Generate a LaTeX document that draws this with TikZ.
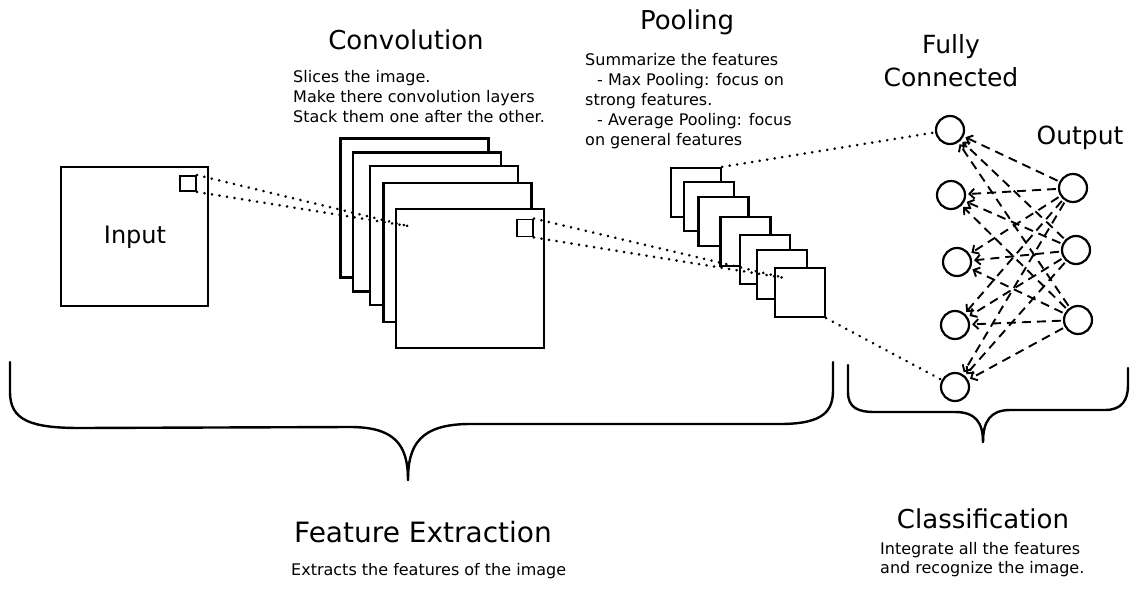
\documentclass[tikz,border=0pt]{standalone}
\usepackage{fontspec}
\setmainfont{DejaVu Sans}
\usetikzlibrary{arrows.meta}
\begin{document}
\begin{tikzpicture}[x=1pt,y=-1pt,
  box/.style={draw, line width=2.2pt, fill=white, inner sep=0pt},
  bigsq/.style={box, minimum width=148pt, minimum height=139pt},
  poolsq/.style={box, minimum width=50pt, minimum height=49pt},
  tinysq/.style={box, line width=1.9pt, minimum width=16pt, minimum height=16pt},
  neuron/.style={draw, circle, line width=2.2pt, minimum size=28pt, inner sep=0pt, fill=white},
  dots/.style={line width=2.8pt, line cap=round, dash pattern=on 0.1pt off 7.5pt},
  link/.style={line width=1.9pt, dash pattern=on 9pt off 6pt, -{Straight Barb[length=5pt,width=10pt,line width=1.9pt]}, shorten >=2pt, shorten <=2pt},
  brace/.style={line width=2.4pt, line cap=round},
  title/.style={font=\fontsize{26}{30}\selectfont, inner sep=0pt},
  body/.style={font=\fontsize{16}{20}\selectfont, align=left, inner sep=0pt},
  small/.style={font=\fontsize{16}{19}\selectfont, align=left, inner sep=0pt}]
\useasboundingbox (0,0) rectangle (1139,591);
\fill[white] (0,0) rectangle (1139,591);

% Input
\node[box, minimum width=147pt, minimum height=139pt] (input) at (134.5,236.5) {};
\node[title, font=\fontsize{24}{28}\selectfont] (inputlbl) at (135,237) {Input};
\node[tinysq, minimum height=15pt] (insq) at (188,183.5) {};

% Convolution stack
\node[bigsq] (c1) at (414.5,208) {};
\node[bigsq] (c2) at (427,222) {};
\node[bigsq] (c3) at (444,235.5) {};
\node[bigsq] (c4) at (457.5,252.5) {};
\node[bigsq] (c5) at (470,278.5) {};
\node[tinysq, minimum height=17pt] (convsq) at (525,228) {};
\coordinate (convfocus) at (408,226);

% Pooling stack
\node[poolsq] (p1) at (696,192.5) {};
\node[poolsq] (p2) at (709,206.5) {};
\node[poolsq] (p3) at (723.5,221.5) {};
\node[poolsq] (p4) at (745.5,241.5) {};
\node[poolsq] (p5) at (765,259.5) {};
\node[poolsq] (p6) at (782,274.5) {};
\node[poolsq] (p7) at (800,292.5) {};
\coordinate (poolfocus) at (785,278);

% Dotted projections
\draw[dots] (insq.north east) -- (convfocus);
\draw[dots] (insq.south east) -- (convfocus);
\draw[dots] (convsq.north east) -- (poolfocus);
\draw[dots] (convsq.south east) -- (poolfocus);

% Fully connected
\node[neuron] (l1) at (950,130) {};
\node[neuron] (l2) at (951,195) {};
\node[neuron] (l3) at (957,262) {};
\node[neuron] (l4) at (955,325) {};
\node[neuron] (l5) at (955,387) {};
\node[neuron] (r1) at (1073,188) {};
\node[neuron] (r2) at (1076,250) {};
\node[neuron] (r3) at (1078,320) {};

\draw[dots] (p1.north east) -- (l1);
\draw[dots] (p7.south east) -- (l5);

\foreach \r in {r1,r2,r3}{
  \foreach \l in {l1,l2,l3,l4,l5}{
    \draw[link] (\r) -- (\l);
  }
}

% Titles and texts
\node[title] (convt) at (406,40) {Convolution};
\node[body, anchor=west] (convtxt) at (293,97) {Slices the image.\\Make there convolution layers\\Stack them one after the other.};
\node[title] (poolt) at (687,22) {Pooling};
\node[body, anchor=west] (pooltxt) at (585,101) {Summarize the features\\\hspace*{12pt}- Max Pooling: focus on\\strong features.\\\hspace*{12pt}- Average Pooling: focus\\on general features};
\node[title, align=center, font=\fontsize{25}{33}\selectfont] (fct) at (951,61) {Fully\\Connected};
\node[title, font=\fontsize{25}{30}\selectfont] (outt) at (1080,138) {Output};

% Braces
\draw[brace] (10,362) -- (10,392) .. controls (10,420) and (30,428) .. (80,428)
  -- (350,427) .. controls (395,427) and (408,445) .. (408,480);
\draw[brace] (408,480) .. controls (408,445) and (420,424) .. (470,424)
  -- (780,424) .. controls (825,424) and (833,410) .. (833,390) -- (833,362);
\draw[brace] (848,365) -- (848,392) .. controls (848,408) and (858,412) .. (875,412)
  -- (955,412) .. controls (975,412) and (983,422) .. (983,442);
\draw[brace] (983,442) .. controls (983,422) and (990,410) .. (1010,410)
  -- (1105,410) .. controls (1122,410) and (1128,400) .. (1128,385) -- (1128,368);

\node[title, font=\fontsize{28}{32}\selectfont] (fet) at (423,532) {Feature Extraction};
\node[small, anchor=west] (fetxt) at (291,571) {Extracts the features of the image};
\node[title] (clt) at (983,519) {Classification};
\node[small, anchor=west] (cltxt) at (880,560) {Integrate all the features\\and recognize the image.};
\end{tikzpicture}
\end{document}
